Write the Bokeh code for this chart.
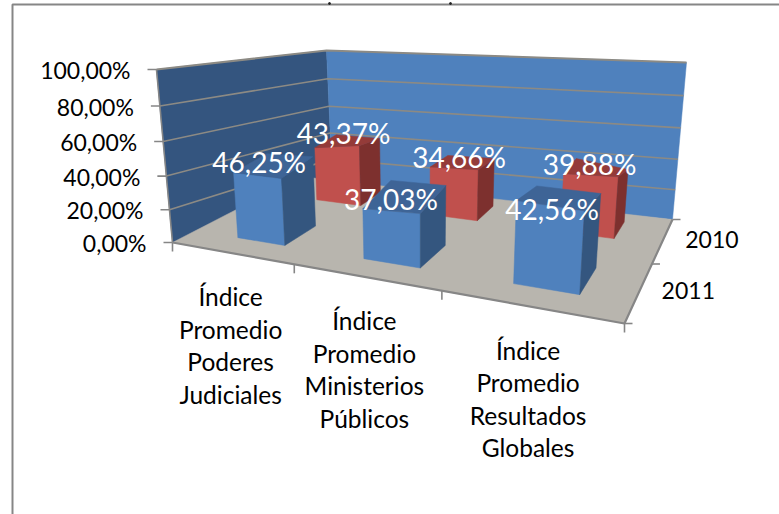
from bokeh.plotting import figure
from bokeh.models import Range1d
from bokeh.embed import file_html
from bokeh.resources import INLINE
from bokeh.core.properties import value

# ---- data ----
categories = [["Índice", "Promedio", "Poderes", "Judiciales"],
              ["Índice", "Promedio", "Ministerios", "Públicos"],
              ["Índice", "Promedio", "Resultados", "Globales"]]
series_names = ["2011", "2010"]
values_2011 = [46.25, 37.03, 42.56]
values_2010 = [43.37, 34.66, 39.88]
value_ticks = [0, 20, 40, 60, 80, 100]

# ---- layout: projected frame of the 3D box, in page pixels ----
W, H = 779, 514
FLOOR = {"fl": (172, 242), "fr": (624, 323), "br": (672, 219), "bl": (300, 176)}
WALL_FL_B, WALL_FL_T = (172, 242), (156, 69)
WALL_BL_B, WALL_BL_T = (332, 184), (326, 50)
WALL_BR_B, WALL_BR_T = (672, 219), (686, 62)
Q = 0.07
ROW_V = {"2011": (0.15, 0.39), "2010": (0.70, 0.90)}
BAR_S = {"2011": [(0.125, 0.255), (0.455, 0.585), (0.78, 0.905)],
         "2010": [(0.155, 0.285), (0.475, 0.595), (0.79, 0.905)]}
# pixels per 100 % at the corners of each bar: front-left, front-right, back-right, back-left
PX100 = {"2011": [(140.5, 145, 150, 142), (135, 147, 162, 154), (195, 197, 175, 171)],
         "2010": [(120, 138, 125, 122), (137, 147, 138, 131), (145, 155, 132, 144)]}
LABEL_OFF = {"2011": [(-14.5, -3), (-14, 2), (-7.5, 11)], "2010": [(-4, -8.5), (-3.5, -5.5), (-7, -6)]}
LEAN_X0, LEAN_K = 420, 0.00036
TITLE_MARKS = ((329, 3), (450, 3))

BORDER = "#868686"
GRID = "#8C8A84"
WALL_R, WALL_L, FLOOR_C = "#4F81BD", "#34557F", "#B8B5AE"
BLUE = ("#4F81BD", "#34567F", "#3E6496")
RED = ("#C0504D", "#7D302E", "#943B39")
FONT = "Lato"


def homography(c):
    (x0, y0), (x1, y1), (x2, y2), (x3, y3) = c["fl"], c["fr"], c["br"], c["bl"]
    dx1, dx2, sx = x1 - x2, x3 - x2, x0 - x1 + x2 - x3
    dy1, dy2, sy = y1 - y2, y3 - y2, y0 - y1 + y2 - y3
    den = dx1 * dy2 - dx2 * dy1
    g = (sx * dy2 - dx2 * sy) / den
    h = (dx1 * sy - sx * dy1) / den
    a, b = x1 - x0 + g * x1, x3 - x0 + h * x3
    d, e = y1 - y0 + g * y1, y3 - y0 + h * y3

    def f(s, v):
        w = 1 + g * s + h * v
        return (x0 + a * s + b * v) / w, (y0 + d * s + e * v) / w
    return f


floor_pt = homography(FLOOR)


def zfrac(z):
    return z / (1 + Q * (1 - z))


def edge(b, t, pct):
    k = zfrac(pct / 100)
    return b[0] + (t[0] - b[0]) * k, b[1] + (t[1] - b[1]) * k


def bar_pt(s, v, pct, px100):
    x, y = floor_pt(s, v)
    hgt = px100 * pct / 100
    return x + hgt * (x - LEAN_X0) * LEAN_K, y - hgt


def poly(p, pts, color):
    p.patch([q[0] for q in pts], [q[1] for q in pts], fill_color=color, line_color=color, line_width=0.5)


p = figure(width=W, height=H, x_range=Range1d(0, W), y_range=Range1d(H, 0),
           output_backend="svg", toolbar_location=None, min_border=0,
           margin=0, background_fill_color="white", border_fill_color="white")
p.xaxis.visible = False
p.yaxis.visible = False
p.grid.visible = False
p.outline_line_color = None

# chart frame and the clipped title marks
p.line([12, 12, W], [H, 4, 4], line_color=BORDER, line_width=2)
p.scatter([m[0] for m in TITLE_MARKS], [m[1] for m in TITLE_MARKS], size=2, color="#222222")

# walls
poly(p, [WALL_FL_B, WALL_FL_T, WALL_BL_T, WALL_BL_B], WALL_L)
poly(p, [WALL_BL_B, WALL_BL_T, WALL_BR_T, WALL_BR_B], WALL_R)

# gridlines, top edges, value ticks and labels
for t in value_ticks:
    a, b, c = edge(WALL_FL_B, WALL_FL_T, t), edge(WALL_BL_B, WALL_BL_T, t), edge(WALL_BR_B, WALL_BR_T, t)
    if t > 0:
        p.line([a[0], b[0], c[0]], [a[1], b[1], c[1]], line_color=GRID, line_width=1.6 if t < 100 else 2)
    p.line([a[0] - 9, a[0]], [a[1], a[1]], line_color=BORDER, line_width=1.6)
    p.text([a[0] - 26], [a[1] + 0.5], text=[f"{t:.2f}".replace(".", ",") + "%"], text_font=value(FONT),
           text_font_size="23px", text_color="black", text_align="right", text_baseline="middle")
p.line([WALL_FL_B[0], WALL_FL_T[0]], [WALL_FL_B[1], WALL_FL_T[1]], line_color=BORDER, line_width=1.6)

# floor
fl, fr, br, bl = floor_pt(0, 0), floor_pt(1, 0), floor_pt(1, 1), floor_pt(0, 1)
poly(p, [fl, fr, br, bl], FLOOR_C)
p.line([fl[0], fr[0], br[0]], [fl[1], fr[1], br[1]], line_color=BORDER, line_width=2.2)

# category ticks and labels
for i in range(4):
    x, y = floor_pt(i / 3, 0)
    p.line([x, x], [y, y + 9], line_color=BORDER, line_width=1.6)
for i, lines in enumerate(categories):
    x, y = floor_pt((i + 0.5) / 3, 0)
    for j, txt in enumerate(lines):
        p.text([x], [y + 44 + 32.4 * j], text=[txt], text_font=value(FONT), text_font_size="24.5px",
               text_color="black", text_align="center", text_baseline="middle")

# depth ticks and labels
for v in [0, 0.5, 1]:
    x, y = floor_pt(1, v)
    p.line([x, x + 8], [y, y], line_color=BORDER, line_width=1.6)
for name, v in zip(series_names, [0.25, 0.75]):
    x, y = floor_pt(1, v)
    p.text([x + 49], [y - 1], text=[name], text_font=value(FONT), text_font_size="23px",
           text_color="black", text_align="center", text_baseline="middle")

# bars, back row first
labels = []
for name, vals, cols in (("2010", values_2010, RED), ("2011", values_2011, BLUE)):
    v0, v1 = ROW_V[name]
    for i, val in enumerate(vals):
        s0, s1 = BAR_S[name][i]
        kf, kr, kb, kl = PX100[name][i]
        a0, b0, c0 = bar_pt(s0, v0, 0, kf), bar_pt(s1, v0, 0, kr), bar_pt(s1, v1, 0, kb)
        a1, b1 = bar_pt(s0, v0, val, kf), bar_pt(s1, v0, val, kr)
        c1, d1 = bar_pt(s1, v1, val, kb), bar_pt(s0, v1, val, kl)
        poly(p, [a0, b0, b1, a1], cols[0])
        poly(p, [b0, c0, c1, b1], cols[1])
        poly(p, [a1, b1, c1, d1], cols[2])
        cx = (a1[0] + b1[0] + c1[0] + d1[0]) / 4
        cy = (a1[1] + b1[1] + c1[1] + d1[1]) / 4
        dx, dy = LABEL_OFF[name][i]
        labels.append((cx + dx, cy + dy, f"{val:.2f}".replace(".", ",") + "%"))

for x, y, txt in labels:
    p.text([x], [y], text=[txt], text_font=value(FONT), text_font_size="28px", text_color="white",
           text_align="center", text_baseline="middle")

open("out.html", "w").write(file_html(p, INLINE))
